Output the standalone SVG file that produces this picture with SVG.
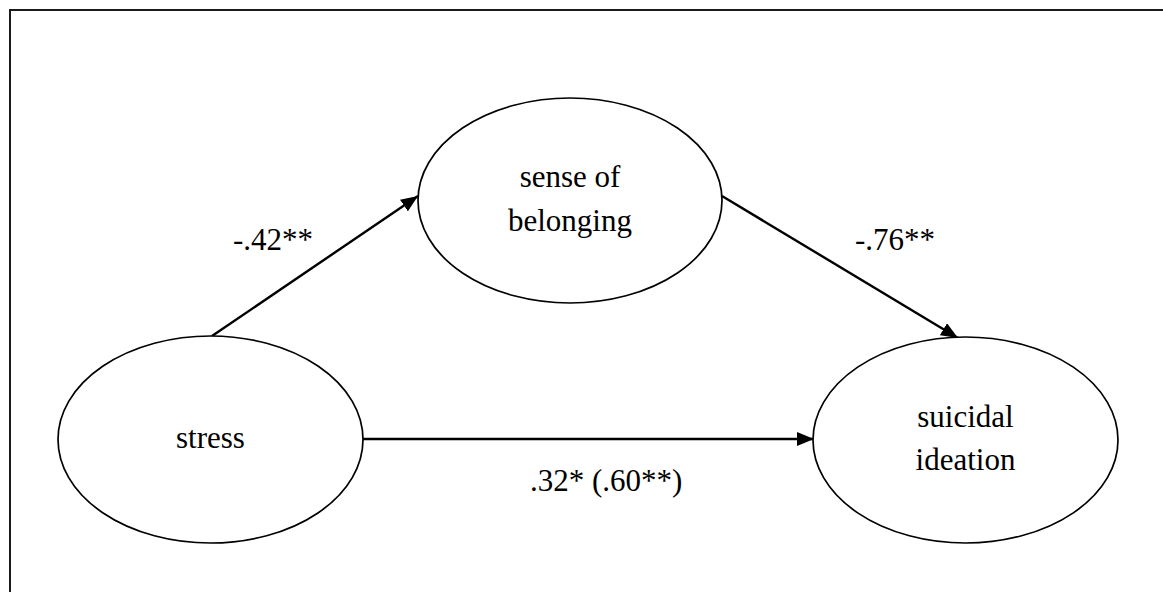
<svg xmlns="http://www.w3.org/2000/svg" width="1163" height="592" viewBox="0 0 1163 592">
  <style>
    .node ellipse { fill: #ffffff; stroke: #000000; stroke-width: 1.7; }
    text { font-family: "Times New Roman", "Liberation Serif", "DejaVu Serif", serif; font-size: 31px; fill: #000000; }
    .edge { fill: none; stroke: #000000; stroke-width: 2.4; marker-end: url(#arrow); }
  </style>
  <defs>
    <marker id="arrow" markerUnits="userSpaceOnUse" markerWidth="18" markerHeight="14" refX="17" refY="7" orient="auto">
      <path d="M0,0 L17,7 L0,14 z" fill="#000000"/>
    </marker>
  </defs>

  <rect width="1163" height="592" fill="#ffffff"/>
  <!-- frame -->
  <path d="M10,592 V10 H1163" fill="none" stroke="#1a1a1a" stroke-width="2"/>

  <!-- paths between constructs -->
  <g id="connectors">
    <line class="edge" x1="212" y1="336" x2="418" y2="196"/>
    <line class="edge" x1="722" y1="196" x2="958" y2="338"/>
    <line class="edge" x1="363" y1="439" x2="814" y2="439"/>
    <text x="233" y="250" font-family="Liberation Serif, serif">-.42**</text>
    <text x="855" y="250" font-family="Liberation Serif, serif">-.76**</text>
    <text x="530" y="491" font-family="Liberation Serif, serif">.32* (.60**)</text>
  </g>

  <g id="stress" class="node">
    <ellipse cx="210.5" cy="439.5" rx="152.5" ry="103.5"/>
    <text x="210.5" y="448" text-anchor="middle">stress</text>
  </g>

  <g id="belonging" class="node">
    <ellipse cx="570" cy="200.5" rx="152" ry="102.5"/>
    <text x="570" y="187" text-anchor="middle">sense of</text>
    <text x="570" y="231" text-anchor="middle">belonging</text>
  </g>

  <g id="ideation" class="node">
    <ellipse cx="965.5" cy="440" rx="152.5" ry="103"/>
    <text x="965.5" y="427" text-anchor="middle">suicidal</text>
    <text x="965.5" y="470" text-anchor="middle">ideation</text>
  </g>
</svg>
